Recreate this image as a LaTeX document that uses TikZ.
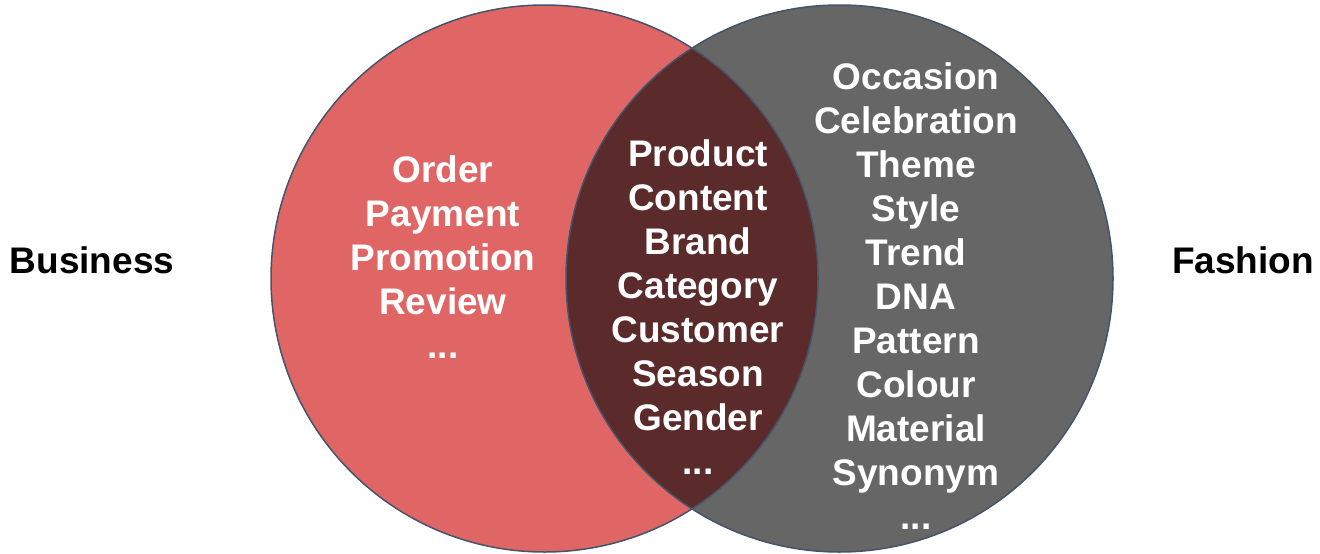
\documentclass[tikz,border=0pt]{standalone}
\usepackage{fontspec}
\setmainfont{Liberation Sans}
\definecolor{redfill}{HTML}{E06666}
\definecolor{grayfill}{HTML}{666666}
\definecolor{lensfill}{HTML}{5B2A2B}
\definecolor{edge}{HTML}{44546A}
\tikzset{
  lbl/.style={text=white, font=\fontsize{37}{44}\selectfont\bfseries, align=center, inner sep=0pt},
  side/.style={text=black, font=\fontsize{37}{44}\selectfont\bfseries, inner sep=0pt},
  ring/.style={draw=edge, line width=1.5pt}
}
\begin{document}
\begin{tikzpicture}[x=1pt,y=-1pt]
\useasboundingbox (0,0) rectangle (1320,554);
\coordinate (cl) at (544.5,278.5);
\coordinate (cr) at (839.5,278.5);
\fill[redfill] (cl) circle[radius=273.5pt];
\fill[grayfill] (cr) circle[radius=273.5pt];
\begin{scope}
\clip (cl) circle[radius=273.5pt];
\fill[lensfill] (cr) circle[radius=273.5pt];
\end{scope}
\draw[ring] (cl) circle[radius=273.5pt];
\draw[ring] (cr) circle[radius=273.5pt];
\node[lbl] (left) at (443,257) {Order\\Payment\\Promotion\\Review\\...};
\node[lbl] (mid) at (698,307) {Product\\Content\\Brand\\Category\\Customer\\Season\\Gender\\...};
\node[lbl] (right) at (916,296) {Occasion\\Celebration\\Theme\\Style\\Trend\\DNA\\Pattern\\Colour\\Material\\Synonym\\...};
\node[side] (biz) at (92,260) {Business};
\node[side] (fash) at (1243,260) {Fashion};
\end{tikzpicture}
\end{document}
